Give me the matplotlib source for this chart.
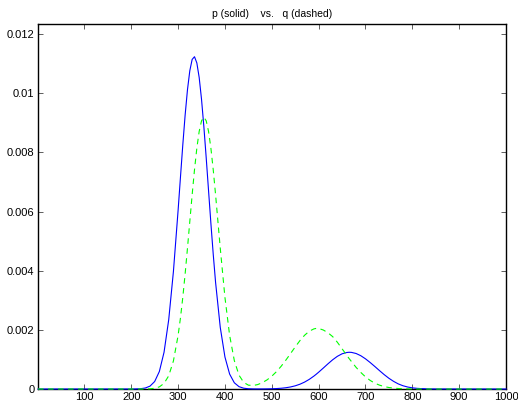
import matplotlib
matplotlib.use("Agg")
import matplotlib.pyplot as plt
from matplotlib.ticker import FixedLocator, FixedFormatter

plt.rcParams["font.family"] = ["Liberation Sans", "DejaVu Sans"]

# values (x positions and densities)
x_vals = [1, 200, 210, 220, 230, 240, 250, 260, 270, 280, 290, 300, 305, 310,
          315, 320, 325, 330, 335, 340, 345, 350, 355, 360, 365, 370, 375,
          380, 390, 400, 410, 420, 430, 440, 450, 460, 470, 480, 490, 500,
          510, 520, 530, 540, 550, 560, 570, 580, 590, 595, 600, 610, 620,
          630, 640, 650, 660, 665, 670, 680, 690, 700, 710, 720, 730, 740,
          750, 760, 770, 780, 790, 800, 810, 820, 830, 840, 850, 1000]

p_vals = [0, 0.0000007, 0.0000029, 0.0000104, 0.0000336, 0.000097, 0.000253,
          0.000592, 0.001243, 0.002345, 0.003970, 0.006039, 0.007152,
          0.008247, 0.009257, 0.010116, 0.010761, 0.011143, 0.011234,
          0.011024, 0.010532, 0.009795, 0.008868, 0.007816, 0.006706,
          0.005601, 0.004555, 0.003605, 0.002083, 0.001081, 0.000504,
          0.000211, 0.000079, 0.000027, 0.0000083, 0.0000027, 0.0000016,
          0.0000022, 0.0000043, 0.0000081, 0.0000146, 0.0000254, 0.0000426,
          0.000069, 0.0001075, 0.0001614, 0.0002337, 0.000326, 0.000438,
          0.000501, 0.000568, 0.000709, 0.000853, 0.000989, 0.001105,
          0.001190, 0.001234, 0.001242, 0.001238, 0.001200, 0.001125,
          0.001020, 0.000895, 0.000760, 0.000620, 0.000485, 0.000362,
          0.000258, 0.000172, 0.000110, 0.000067, 0.000039, 0.000022,
          0.000012, 0.0000065, 0.0000033, 0.0000016, 0]

q_vals = [0, 0, 0.0000001, 0.0000005, 0.0000021, 0.0000075, 0.0000246,
          0.0000719, 0.000189, 0.000447, 0.000948, 0.001808, 0.002398,
          0.003094, 0.003889, 0.004758, 0.005666, 0.006568, 0.007412,
          0.008143, 0.008709, 0.009068, 0.009190, 0.009068, 0.008709,
          0.008143, 0.007412, 0.006569, 0.004760, 0.003097, 0.001814,
          0.000960, 0.000467, 0.000224, 0.000130, 0.000117, 0.000150,
          0.000216, 0.000310, 0.000433, 0.000587, 0.000769, 0.000976,
          0.001198, 0.001423, 0.001635, 0.001817, 0.001954, 0.002033,
          0.002049, 0.002047, 0.001994, 0.001900, 0.001770, 0.001580,
          0.001360, 0.001140, 0.001030, 0.000930, 0.000730, 0.000560,
          0.000410, 0.000290, 0.000195, 0.000130, 0.000082, 0.000050,
          0.000030, 0.000017, 0.0000095, 0.000005, 0.0000026, 0.0000013,
          0.0000006, 0.0000003, 0, 0, 0]

x_ticks = [100, 200, 300, 400, 500, 600, 700, 800, 900, 1000]
y_ticks = [0, 0.002, 0.004, 0.006, 0.008, 0.01, 0.012]
y_tick_labels = ["0", "0.002", "0.004", "0.006", "0.008", "0.01", "0.012"]
title_text = "p (solid)    vs.   q (dashed)"

fig = plt.figure(figsize=(5.18, 4.09), dpi=100)
ax = fig.add_axes([0.0734, 0.0489, 0.9035, 0.8924])

ax.plot(x_vals, p_vals, color="#0000ff", linewidth=0.8, clip_on=False,
        solid_joinstyle="round", zorder=3)
ax.plot(x_vals, q_vals, color="#00ff00", linewidth=0.8, dashes=(5, 4),
        clip_on=False, zorder=3.1)

ax.set_xlim(1, 1000)
ax.set_ylim(0, 0.01234)

ax.xaxis.set_major_locator(FixedLocator(x_ticks))
ax.yaxis.set_major_locator(FixedLocator(y_ticks))
ax.yaxis.set_major_formatter(FixedFormatter(y_tick_labels))
ax.tick_params(direction="in", length=3.6, width=0.6, color="#444444",
               labelsize=8, top=True, right=True, pad=2.5)

for spine in ax.spines.values():
    spine.set_linewidth(1.0)
    spine.set_color("black")

ax.set_title(title_text, fontsize=7.5, pad=5)

fig.savefig("out.png", dpi=100)
